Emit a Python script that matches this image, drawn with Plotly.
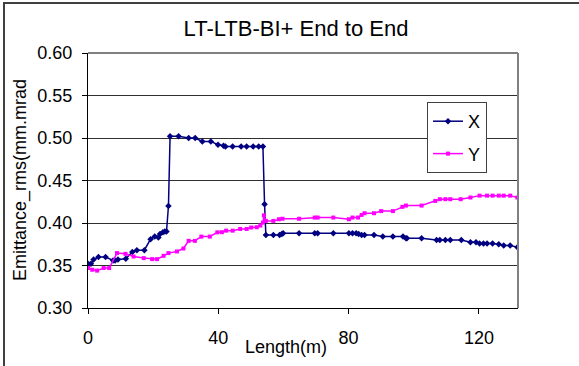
import plotly.graph_objects as go

# ---- data ----
x_len = [0, 0.9, 1.7, 3.2, 5.4, 7.7, 8.3, 9.2, 11.6, 13.6, 15.0, 17.3, 19.2, 20.5,
         21.6, 22.1, 23.0, 23.6, 24.1, 24.7, 25.2, 27.8, 30.9, 32.9, 35.1, 37.7,
         39.9, 41.6, 42.2, 44.4, 47.0, 48.7, 50.7, 52.4, 53.7, 54.2, 54.6, 56.9,
         58.8, 59.5, 59.9, 64.8, 69.6, 70.5, 75.3, 80.1, 81.2, 82.3, 83.1, 84.0,
         84.9, 87.8, 90.5, 93.6, 96.7, 97.6, 97.9, 102.4, 107.0, 108.0, 109.7,
         111.2, 114.6, 117.4, 119.1, 120.2, 121.4, 122.5, 124.2, 126.1, 127.6,
         129.6, 131.8]
x_emit = [0.352, 0.352, 0.357, 0.360, 0.360, 0.356, 0.356, 0.357, 0.358, 0.366,
          0.368, 0.368, 0.381, 0.384, 0.383, 0.387, 0.389, 0.390, 0.390, 0.420,
          0.502, 0.502, 0.500, 0.500, 0.496, 0.496, 0.492, 0.491, 0.490, 0.490,
          0.490, 0.490, 0.490, 0.490, 0.490, 0.422, 0.386, 0.386, 0.386, 0.387,
          0.388, 0.388, 0.388, 0.388, 0.388, 0.388, 0.388, 0.388, 0.387, 0.386,
          0.386, 0.386, 0.384, 0.384, 0.384, 0.382, 0.382, 0.382, 0.380, 0.380,
          0.380, 0.380, 0.380, 0.3775, 0.3775, 0.376, 0.376, 0.376, 0.376, 0.375,
          0.3735, 0.3735, 0.3716]

y_len = [0, 1.3, 2.8, 4.8, 6.5, 8.9, 11.5, 14.0, 17.1, 19.7, 21.2, 23.2, 24.7,
         27.3, 29.3, 30.9, 32.8, 34.8, 37.4, 39.7, 41.1, 42.4, 44.4, 46.7, 48.7,
         50.1, 51.8, 52.9, 53.7, 54.0, 54.6, 56.9, 58.6, 59.7, 64.8, 69.6, 70.5,
         75.3, 80.1, 81.2, 82.9, 84.0, 84.9, 87.8, 90.0, 93.6, 96.5, 97.6, 102.4,
         106.6, 108.0, 109.7, 111.2, 114.4, 117.4, 120.2, 122.5, 124.2, 126.1,
         127.6, 129.6, 131.8]
y_emit = [0.347, 0.345, 0.344, 0.347, 0.347, 0.3646, 0.3637, 0.3606, 0.3587,
          0.3575, 0.3575, 0.3614, 0.3646, 0.3665, 0.370, 0.379, 0.379, 0.384,
          0.384, 0.389, 0.3892, 0.391, 0.391, 0.393, 0.393, 0.3947, 0.395, 0.397,
          0.4005, 0.409, 0.4025, 0.4025, 0.4044, 0.405, 0.405, 0.4064, 0.4064,
          0.4064, 0.4044, 0.4064, 0.4064, 0.4095, 0.4115, 0.4115, 0.414, 0.414,
          0.419, 0.4205, 0.4205, 0.426, 0.428, 0.428, 0.428, 0.428, 0.430, 0.4322,
          0.4322, 0.4322, 0.4322, 0.4322, 0.4322, 0.430]

x_ticks = [0, 40, 80, 120]
y_ticks = [0.30, 0.35, 0.40, 0.45, 0.50, 0.55, 0.60]

FONT = "Arial, Liberation Sans, sans-serif"
W, H = 579, 366
L, R, T, B = 88, 61, 53, 58

fig = go.Figure()
fig.add_trace(go.Scatter(
    x=x_len, y=x_emit, name="X", mode="lines+markers", legendgroup="a",
    line=dict(color="#000080", width=1.5),
    marker=dict(symbol="diamond", size=5, color="#000080")))
fig.add_trace(go.Scatter(
    x=y_len, y=y_emit, name="Y", mode="lines+markers", legendgroup="b",
    line=dict(color="#FF00FF", width=1.5),
    marker=dict(symbol="square", size=4, color="#FF00FF")))

pw = W - L - R
ph = H - T - B

def px2paper(px, py):
    return (px - L) / pw, (H - B - py) / ph

ann = []
lx, ly = px2paper(286, 347)
ann.append(dict(text="Length(m)", x=lx, y=ly, xref="paper", yref="paper",
                showarrow=False, xanchor="center", yanchor="middle",
                font=dict(family=FONT, size=18, color="black")))
tx, ty = px2paper(20, 180)
ann.append(dict(text="Emittance_rms(mm.mrad", x=tx, y=ty, xref="paper", yref="paper",
                showarrow=False, xanchor="center", yanchor="middle", textangle=-90,
                font=dict(family=FONT, size=18, color="black")))

bx0, by1 = px2paper(4, 3)
shapes = [
    dict(type="rect", xref="paper", yref="paper", x0=bx0, x1=2.0, y0=-2.0, y1=by1,
         line=dict(color="#404040", width=2), layer="below"),
    dict(type="line", xref="paper", yref="paper", x0=0, x1=1, y0=1, y1=1,
         line=dict(color="#808080", width=2)),
    dict(type="line", xref="paper", yref="paper", x0=1, x1=1, y0=0, y1=1,
         line=dict(color="#808080", width=2)),
]

lgx, lgy = px2paper(427, 102)

fig.update_layout(
    width=W, height=H,
    margin=dict(l=L, r=R, t=T, b=B),
    paper_bgcolor="white", plot_bgcolor="white",
    font=dict(family=FONT, size=18, color="black"),
    title=dict(text="LT-LTB-BI+ End to End", x=296 / W, y=1 - 28 / H,
               xref="container", yref="container", xanchor="center", yanchor="middle",
               font=dict(family=FONT, size=22, color="black")),
    xaxis=dict(range=[0, 132], tickvals=x_ticks, ticks="outside", ticklen=5,
               tickcolor="black", showline=True, linecolor="black", linewidth=1,
               showgrid=False, zeroline=False, ticklabelstandoff=8,
               tickfont=dict(family=FONT, size=18, color="black")),
    yaxis=dict(range=[0.30, 0.60], tickvals=y_ticks, tickformat=".2f",
               ticks="outside", ticklen=5, tickcolor="black",
               showline=True, linecolor="black", linewidth=1,
               showgrid=True, gridcolor="#303030", gridwidth=1, zeroline=False,
               ticklabelstandoff=6,
               tickfont=dict(family=FONT, size=18, color="black")),
    showlegend=True,
    legend=dict(x=lgx, y=lgy, xanchor="left", yanchor="top",
                bgcolor="white", bordercolor="#404040", borderwidth=1,
                traceorder="grouped", tracegroupgap=6,
                font=dict(family=FONT, size=18, color="black")),
    annotations=ann, shapes=shapes,
)

fig.write_html("out.html")
